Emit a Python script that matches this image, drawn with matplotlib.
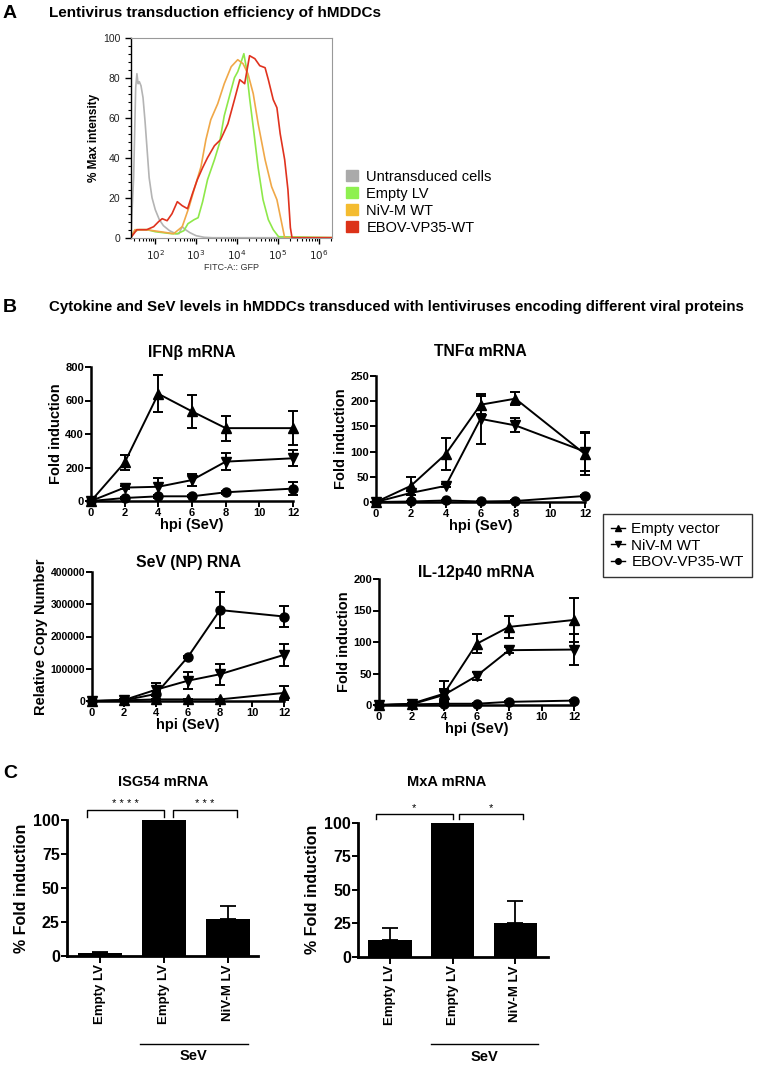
import numpy as np
import matplotlib
matplotlib.use('Agg')
import matplotlib.pyplot as plt
from matplotlib.lines import Line2D
from matplotlib.patches import Patch

plt.rcParams['font.family'] = ['Liberation Sans', 'DejaVu Sans']

W, H = 760, 1066

# ---- panel A: flow cytometry histograms (log10 FITC, % max) ----
facs_labels = ['Untransduced cells', 'Empty LV', 'NiV-M WT', 'EBOV-VP35-WT']
facs_colors = ['#b4b4b4', '#8ee84a', '#f0a848', '#e0321e']
legend_colors = ['#aaaaaa', '#8ef050', '#f4bc30', '#dc3218']

gray_x = [1.40, 1.47, 1.52, 1.55, 1.58, 1.61, 1.65, 1.70, 1.75, 1.80, 1.85, 1.92, 2.00,
          2.10, 2.20, 2.35, 2.50, 2.58, 2.66, 2.74, 2.85, 3.00, 3.20, 3.40, 6.40]
gray_y = [0, 30, 75, 82, 77, 78, 76, 70, 58, 44, 30, 20, 14,
          9, 6, 3.5, 2, 2, 5.5, 4, 2.5, 1, 0.2, 0, 0]
green_x = [1.40, 1.48, 1.60, 1.80, 2.00, 2.20, 2.40, 2.54, 2.70, 2.80, 2.95, 3.05, 3.16,
           3.28, 3.45, 3.57, 3.69, 3.86, 3.94, 4.02, 4.09, 4.17, 4.23, 4.31, 4.42,
           4.52, 4.64, 4.77, 4.89, 5.02, 6.40]
green_y = [0, 3, 4, 4, 3, 2.5, 2, 2, 3.5, 7, 9, 10, 18,
           29, 39, 47, 61, 74, 80, 83, 87, 92, 85, 70, 52,
           35, 19, 9, 4, 0.5, 0]
orange_x = [1.40, 1.50, 1.79, 2.12, 2.45, 2.66, 2.83, 2.95, 3.12, 3.24, 3.36, 3.53,
            3.69, 3.86, 4.02, 4.15, 4.27, 4.40, 4.52, 4.69, 4.85, 4.98, 5.08, 5.17, 6.40]
orange_y = [0, 4, 4, 3, 2, 5.5, 15.5, 24, 35.5, 49, 59, 67,
            77, 85.5, 89, 87, 82, 72, 57, 39, 25.5, 19, 9, 0, 0]
red_x = [1.40, 1.55, 1.79, 1.96, 2.08, 2.17, 2.29, 2.41, 2.54, 2.66, 2.79, 2.91, 3.03,
         3.16, 3.28, 3.45, 3.60, 3.78, 3.94, 4.07, 4.19, 4.31, 4.44, 4.56, 4.69,
         4.77, 4.89, 4.98, 5.06, 5.17, 5.25, 5.31, 5.35, 6.40]
red_y = [0, 4, 4, 5.5, 8, 9.5, 8.5, 12, 18, 16, 14.5, 22, 29,
         35, 40, 46, 49, 57, 69, 79, 77, 91, 89.5, 86, 85,
         79, 69, 65, 52, 39, 24, 5, 0, 0]

# ---- panel B: time courses ----
hpi = [0, 2, 4, 6, 8, 12]
series_names = ['Empty vector', 'NiV-M WT', 'EBOV-VP35-WT']

ifnb_empty = [0, 230, 640, 535, 435, 435]
ifnb_empty_err = [0, 42, 110, 100, 75, 100]
ifnb_niv = [0, 80, 85, 125, 235, 255]
ifnb_niv_err = [0, 10, 55, 35, 52, 47]
ifnb_ebov = [0, 18, 28, 28, 52, 74]
ifnb_ebov_err = [0, 5, 8, 6, 10, 40]

tnf_empty = [0, 32, 95, 193, 205, 95]
tnf_empty_err = [0, 18, 31, 18, 13, 42]
tnf_niv = [0, 18, 32, 165, 152, 100]
tnf_niv_err = [0, 4, 3, 50, 14, 38]
tnf_ebov = [0, 1, 3, 1, 2, 12]
tnf_ebov_err = [0, 1, 1, 1, 1, 2]

sev_empty = [0, 2000, 5000, 5000, 5000, 25000]
sev_empty_err = [0, 1000, 2000, 2000, 2000, 23000]
sev_niv = [0, 3000, 35000, 63000, 83000, 143000]
sev_niv_err = [0, 2000, 20000, 27000, 33000, 35000]
sev_ebov = [0, 2000, 22000, 137000, 282000, 262000]
sev_ebov_err = [0, 1000, 8000, 4000, 56000, 34000]

il12_empty = [0, 2, 18, 97, 124, 135]
il12_empty_err = [0, 1, 20, 15, 18, 35]
il12_niv = [0, 1, 16, 46, 87, 88]
il12_niv_err = [0, 1, 10, 7, 5, 25]
il12_ebov = [0, 1, 2, 2, 5, 7]
il12_ebov_err = [0, 0.5, 1, 1, 1, 1]

# ---- panel C: bar charts ----
bar_labels = ['Empty LV', 'Empty LV', 'NiV-M LV']
isg54 = [2, 100, 27]
isg54_err = [0.5, 0, 9.5]
mxa = [12.5, 100, 25]
mxa_err = [9, 0, 16.7]


def px_axes(x0, y0, x1, y1):
    return fig.add_axes([x0 / W, 1 - y1 / H, (x1 - x0) / W, (y1 - y0) / H])


fig = plt.figure(figsize=(W / 100, H / 100), dpi=100)

# ================= A =================
fig.text(3 / W, 1 - 13 / H, 'A', fontsize=14, fontweight='bold', va='center')
fig.text(49 / W, 1 - 13 / H, 'Lentivirus transduction efficiency of hMDDCs',
         fontsize=11, fontweight='bold', va='center')

axA = px_axes(130.7, 37.7, 331.7, 237.7)
for xs, ys, c in zip([gray_x, green_x, orange_x, red_x],
                     [gray_y, green_y, orange_y, red_y], facs_colors):
    axA.plot(10 ** np.array(xs), ys, color=c, lw=1.2)
axA.set_xscale('log')
axA.set_xlim(25, 2.1e6)
axA.set_ylim(0, 100)
axA.set_xticks([1e2, 1e3, 1e4, 1e5, 1e6])
axA.set_xticklabels(['$10^2$', '$10^3$', '$10^4$', '$10^5$', '$10^6$'])
axA.set_yticks([0, 20, 40, 60, 80, 100])
axA.set_yticks(np.arange(0, 101, 4), minor=True)
axA.tick_params(labelsize=7.5, labelcolor='#222222', length=4, width=1)
axA.tick_params(which='minor', length=2, width=0.8)
for s in ['top', 'right', 'bottom']:
    axA.spines[s].set_color('#999999')
    axA.spines[s].set_linewidth(0.8)
axA.spines['left'].set_linewidth(1.0)
axA.set_xlabel('FITC-A:: GFP', fontsize=6.5, color='#333333', labelpad=1)
axA.set_ylabel('% Max intensity', fontsize=8.5, fontweight='bold', labelpad=2)

fig.legend([Patch(color=c) for c in legend_colors], facs_labels,
           loc='upper left', bbox_to_anchor=(340 / W, 1 - 164 / H),
           frameon=False, fontsize=10.5, handlelength=0.8, handleheight=0.8,
           handletextpad=0.6, labelspacing=0.2, borderaxespad=0)

# ================= B =================
fig.text(3 / W, 1 - 307 / H, 'B', fontsize=14, fontweight='bold', va='center')
fig.text(49 / W, 1 - 307 / H,
         'Cytokine and SeV levels in hMDDCs transduced with lentiviruses encoding different viral proteins',
         fontsize=10.85, fontweight='bold', va='center')


def prism(ax, lw=1.8, labelsize=7.5):
    ax.spines['top'].set_visible(False)
    ax.spines['right'].set_visible(False)
    ax.spines['left'].set_linewidth(lw)
    ax.spines['bottom'].set_linewidth(lw)
    ax.tick_params(width=1.4, length=4, labelsize=labelsize, pad=1)
    for lab in ax.get_xticklabels() + ax.get_yticklabels():
        lab.set_fontweight('bold')


def timecourse(rect, title, data, ylim, yticks, ylabel, title_y):
    ax = px_axes(*rect)
    for (vals, errs), m in zip(data, ['^', 'v', 'o']):
        ax.errorbar(hpi, vals, yerr=errs, color='k', marker=m, markersize=6.5,
                    lw=1.4, elinewidth=1.4, capsize=3.5, capthick=1.4, clip_on=False)
    ax.set_xlim(0, 12)
    ax.set_ylim(*ylim)
    ax.set_xticks([0, 2, 4, 6, 8, 10, 12])
    ax.set_yticks(yticks)
    prism(ax, labelsize=8)
    ax.set_xlabel('hpi (SeV)', fontsize=10.5, fontweight='bold', labelpad=0)
    ax.set_ylabel(ylabel, fontsize=10.5, fontweight='bold', labelpad=2)
    cx = (rect[0] + rect[2]) / 2
    fig.text(cx / W, 1 - title_y / H, title, fontsize=11.3, fontweight='bold',
             ha='center', va='center')
    return ax


timecourse((91, 367, 293, 501), 'IFNβ mRNA',
           [(ifnb_empty, ifnb_empty_err), (ifnb_niv, ifnb_niv_err), (ifnb_ebov, ifnb_ebov_err)],
           (0, 800), [0, 200, 400, 600, 800], 'Fold induction', 352)
timecourse((376, 376, 585, 502), 'TNFα mRNA',
           [(tnf_empty, tnf_empty_err), (tnf_niv, tnf_niv_err), (tnf_ebov, tnf_ebov_err)],
           (0, 250), [0, 50, 100, 150, 200, 250], 'Fold induction', 352)
axS = timecourse((92, 572, 284, 701), 'SeV (NP) RNA',
                 [(sev_empty, sev_empty_err), (sev_niv, sev_niv_err), (sev_ebov, sev_ebov_err)],
                 (0, 400000), [0, 100000, 200000, 300000, 400000], 'Relative Copy Number', 563)
axS.tick_params(axis='y', labelsize=7.5)
timecourse((379, 579, 574, 705), 'IL-12p40 mRNA',
           [(il12_empty, il12_empty_err), (il12_niv, il12_niv_err), (il12_ebov, il12_ebov_err)],
           (0, 200), [0, 50, 100, 150, 200], 'Fold induction', 572)

handles = [Line2D([0], [0], color='k', marker=m, markersize=4, lw=1) for m in ['^', 'v', 'o']]
legB = fig.legend(handles, series_names, loc='upper left',
                  bbox_to_anchor=(603 / W, 1 - 514 / H), fontsize=11,
                  handlelength=0.9, handletextpad=0.4, labelspacing=0.15,
                  borderaxespad=0, fancybox=False, edgecolor='k',
                  borderpad=0.55)
legB.get_frame().set_linewidth(1.0)

# ================= C =================
fig.text(3 / W, 1 - 773 / H, 'C', fontsize=14, fontweight='bold', va='center')


def barpanel(rect, xlim, title, title_x, vals, errs, brackets, seline):
    ax = px_axes(*rect)
    x = np.arange(len(vals))
    ax.bar(x, vals, width=0.69, color='k')
    ax.errorbar(x, vals, yerr=[np.zeros(len(errs)), errs], fmt='none', ecolor='k',
                elinewidth=1.3, capsize=6, capthick=1.3)
    ax.set_xlim(*xlim)
    ax.set_ylim(0, 100)
    ax.set_yticks([0, 25, 50, 75, 100])
    ax.set_xticks(x)
    ax.set_xticklabels(bar_labels, rotation=90, fontsize=9, fontweight='bold')
    prism(ax, lw=2.0, labelsize=11.5)
    ax.tick_params(axis='x', labelsize=9.5, length=5)
    ax.set_ylabel('% Fold induction', fontsize=11.5, fontweight='bold', labelpad=3)
    fig.text(title_x / W, 1 - 782 / H, title, fontsize=10.5, fontweight='bold',
             ha='center', va='center')
    for x0, x1, ytop, ytip, stars in brackets:
        ax.plot([x0, x0, x1, x1], [ytip, ytop, ytop, ytip], color='k', lw=1,
                clip_on=False)
        ax.text((x0 + x1) / 2, ytop + 0.5, stars, fontsize=8, ha='center', va='bottom')
    trans = ax.get_xaxis_transform()
    ax.plot(seline[:2], [seline[2], seline[2]], color='k', lw=1, transform=trans,
            clip_on=False)
    ax.text(sum(seline[:2]) / 2, seline[2] - 0.04, 'SeV', fontsize=10.5,
            fontweight='bold', ha='center', va='top', transform=trans)
    return ax


barpanel((66.7, 820, 258, 955.7), (-0.52, 2.47), 'ISG54 mRNA', 163, isg54, isg54_err,
         [(-0.2, 1.0, 107.4, 102.2, '* * * *'), (1.14, 2.14, 107.4, 102.2, '* * *')],
         (0.62, 2.31, -0.651))
barpanel((358, 822.7, 548, 956.7), (-0.51, 2.52), 'MxA mRNA', 447, mxa, mxa_err,
         [(-0.22, 1.0, 106.5, 102.8, '*'), (1.1, 2.12, 106.5, 102.8, '*')],
         (0.65, 2.36, -0.654))

fig.savefig('out.png', dpi=100)
